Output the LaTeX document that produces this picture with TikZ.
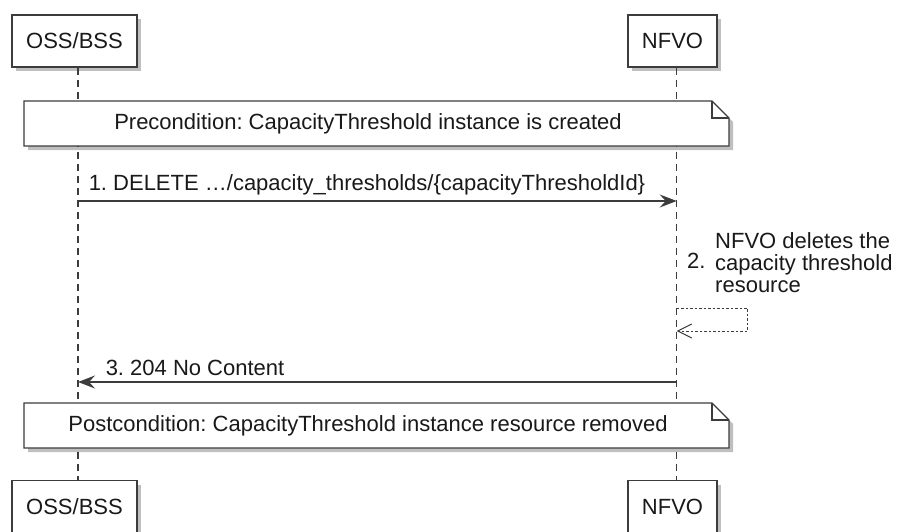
\documentclass[tikz,border=0pt]{standalone}
\usepackage{fontspec}
\setsansfont{Liberation Sans}
\usetikzlibrary{arrows.meta, shadows}
\definecolor{linecolor}{RGB}{60,60,60}
\definecolor{textcolor}{RGB}{25,25,25}

\begin{document}
\frenchspacing
\begin{tikzpicture}[x=1pt, y=-1pt, font=\sffamily\fontsize{22}{22}\selectfont, text=textcolor]
    \useasboundingbox (0,0) rectangle (901,532);

    % Define the styles for the sequence diagram
    \tikzstyle{participant} = [draw=linecolor, line width=1.3pt, fill=white, minimum height=52pt, inner sep=0pt, drop shadow={shadow xshift=4pt, shadow yshift=-4pt, fill=black, opacity=0.25}]
    \tikzstyle{lifeline} = [draw=linecolor, line width=1.2pt, dash pattern=on 7pt off 5pt]
    \tikzstyle{notebox} = [draw=linecolor, line width=1.3pt, fill=white, drop shadow={shadow xshift=4pt, shadow yshift=-4pt, fill=black, opacity=0.25}]
    \tikzstyle{fold} = [draw=linecolor, line width=1.3pt]
    \tikzstyle{msglabel} = [inner sep=0pt]
    \tikzstyle{message} = [draw=linecolor, line width=1.5pt, -{Stealth[length=17pt, width=13pt, inset=6pt]}]
    \tikzstyle{selfmessage} = [draw=linecolor, line width=1pt, dash pattern=on 2.5pt off 2pt, -{Straight Barb[length=14pt, width=14pt]}]

    % Participants at the top and at the bottom
    \node[participant, minimum width=125pt] (ossTop) at (74.5,41) {OSS/BSS};
    \node[participant, minimum width=89pt] (nfvoTop) at (672.5,41) {NFVO};
    \node[participant, minimum width=125pt] (ossBot) at (74.5,506.5) {OSS/BSS};
    \node[participant, minimum width=89pt] (nfvoBot) at (672.5,506.5) {NFVO};

    % Lifelines
    \draw[lifeline] ([xshift=3.5pt]ossTop.south) -- ([xshift=3.5pt]ossBot.north);
    \draw[lifeline] ([xshift=4.2pt]nfvoTop.south) -- ([xshift=4.2pt]nfvoBot.north);

    % Precondition note
    \draw[notebox] (24,101) -- (712,101) -- (729,118) -- (729,146) -- (24,146) -- cycle;
    \draw[fold] (712,101) -- (712,118) -- (729,118);
    \node[msglabel] (pre) at (368,124) {Precondition: CapacityThreshold instance is created};

    % 1. request from OSS/BSS to NFVO
    \coordinate (reqStart) at (78,201);
    \coordinate (reqEnd) at (676.7,201);
    \draw[message] (reqStart) -- (reqEnd)
        node[msglabel, pos=0, anchor=base west, xshift=10pt, yshift=11pt] (reqLabel) {1. DELETE …/capacity\_thresholds/\{capacityThresholdId\}};

    % 2. NFVO deletes the resource (self message)
    \coordinate (selfStart) at (676.7,308);
    \coordinate (selfEnd) at (676.7,331);
    \draw[selfmessage] (selfStart) -- ++(71,0) -- ++(0,23) -- (selfEnd);
    \node[msglabel, anchor=base west] (selfNum) at (687,268) {2.};
    \node[msglabel, anchor=west, align=left] (selfLabel) at (715,263) {NFVO deletes the\\capacity threshold\\resource};

    % 3. response from NFVO to OSS/BSS
    \coordinate (respStart) at (676.7,382);
    \coordinate (respEnd) at (78,382);
    \draw[message] (respStart) -- (respEnd)
        node[msglabel, pos=1, anchor=base west, xshift=27pt, yshift=7pt] (respLabel) {3. 204 No Content};

    % Postcondition note
    \draw[notebox] (24,403) -- (712,403) -- (729,420) -- (729,448) -- (24,448) -- cycle;
    \draw[fold] (712,403) -- (712,420) -- (729,420);
    \node[msglabel] (post) at (368,426) {Postcondition: CapacityThreshold instance resource removed};
\end{tikzpicture}
\end{document}
